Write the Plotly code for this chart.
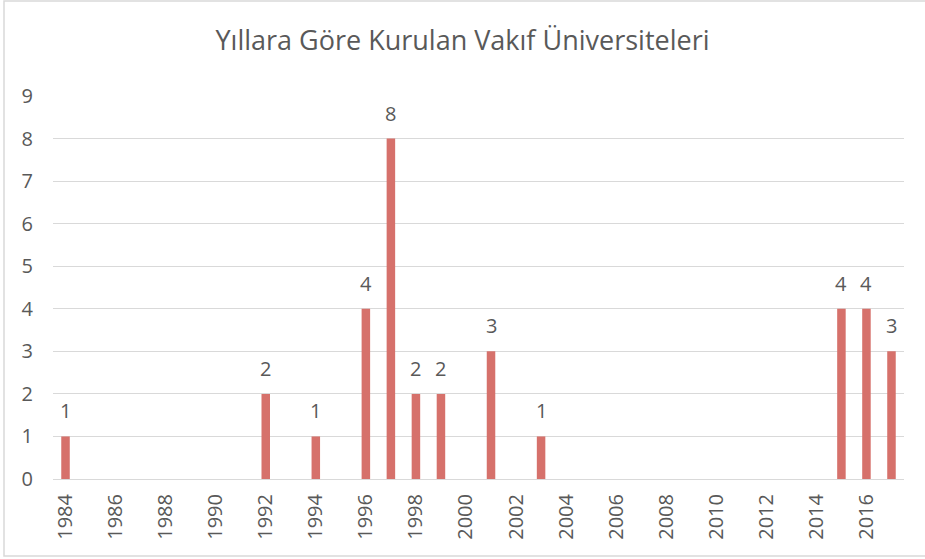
import plotly.graph_objects as go

years = list(range(1984, 2018))
counts_by_year = {1984: 1, 1992: 2, 1994: 1, 1996: 4, 1997: 8, 1998: 2, 1999: 2,
                  2001: 3, 2003: 1, 2015: 4, 2016: 4, 2017: 3}
values = [counts_by_year.get(y, 0) for y in years]
title = "Yıllara Göre Kurulan Vakıf Üniversiteleri"

W, H = 925, 559
ml, mr, mt, mb = 53, 21, 96, 80
pw, ph = W - ml - mr, H - mt - mb
GRAY = "#595959"

fig = go.Figure(go.Bar(
    x=years, y=values,
    marker=dict(color="#D6716B", line=dict(width=0)),
    width=0.34,
))

annotations = [dict(x=yr, y=v, text=str(v), showarrow=False, xref="x", yref="y",
                    yanchor="bottom", yshift=10, font=dict(size=20, color=GRAY))
               for yr, v in zip(years, values) if v > 0]

fig.update_layout(
    width=W, height=H,
    margin=dict(l=ml, r=mr, t=mt, b=mb),
    paper_bgcolor="white", plot_bgcolor="white",
    font=dict(family="Open Sans, Noto Sans, sans-serif", color=GRAY),
    title=dict(text=title, x=0.5, xanchor="center", y=1 - 41 / H, yanchor="middle",
               font=dict(size=27, color=GRAY)),
    showlegend=False,
    annotations=annotations,
    xaxis=dict(range=[1983.5, 2017.5], tickmode="linear", tick0=1984, dtick=2,
               tickangle=-90, tickfont=dict(size=20, color=GRAY),
               showgrid=False, zeroline=False, showline=True, linecolor="#d9d9d9",
               ticks="", ticklen=0, ticklabelstandoff=6),
    yaxis=dict(range=[0, 9], dtick=1, tickfont=dict(size=20, color=GRAY),
               gridcolor="#d9d9d9", gridwidth=1, zeroline=False, showline=False,
               ticks="", ticklabelstandoff=19),
    shapes=[dict(type="rect", xref="paper", yref="paper",
                 x0=(4 - ml) / pw, x1=(940 - ml) / pw,
                 y0=(H - mb - 556) / ph, y1=(H - mb - 1) / ph,
                 line=dict(color="#d9d9d9", width=1.5), fillcolor="rgba(0,0,0,0)")],
)

fig.write_html("out.html", config={"displayModeBar": False},
               post_script="document.body.style.margin='0';")
